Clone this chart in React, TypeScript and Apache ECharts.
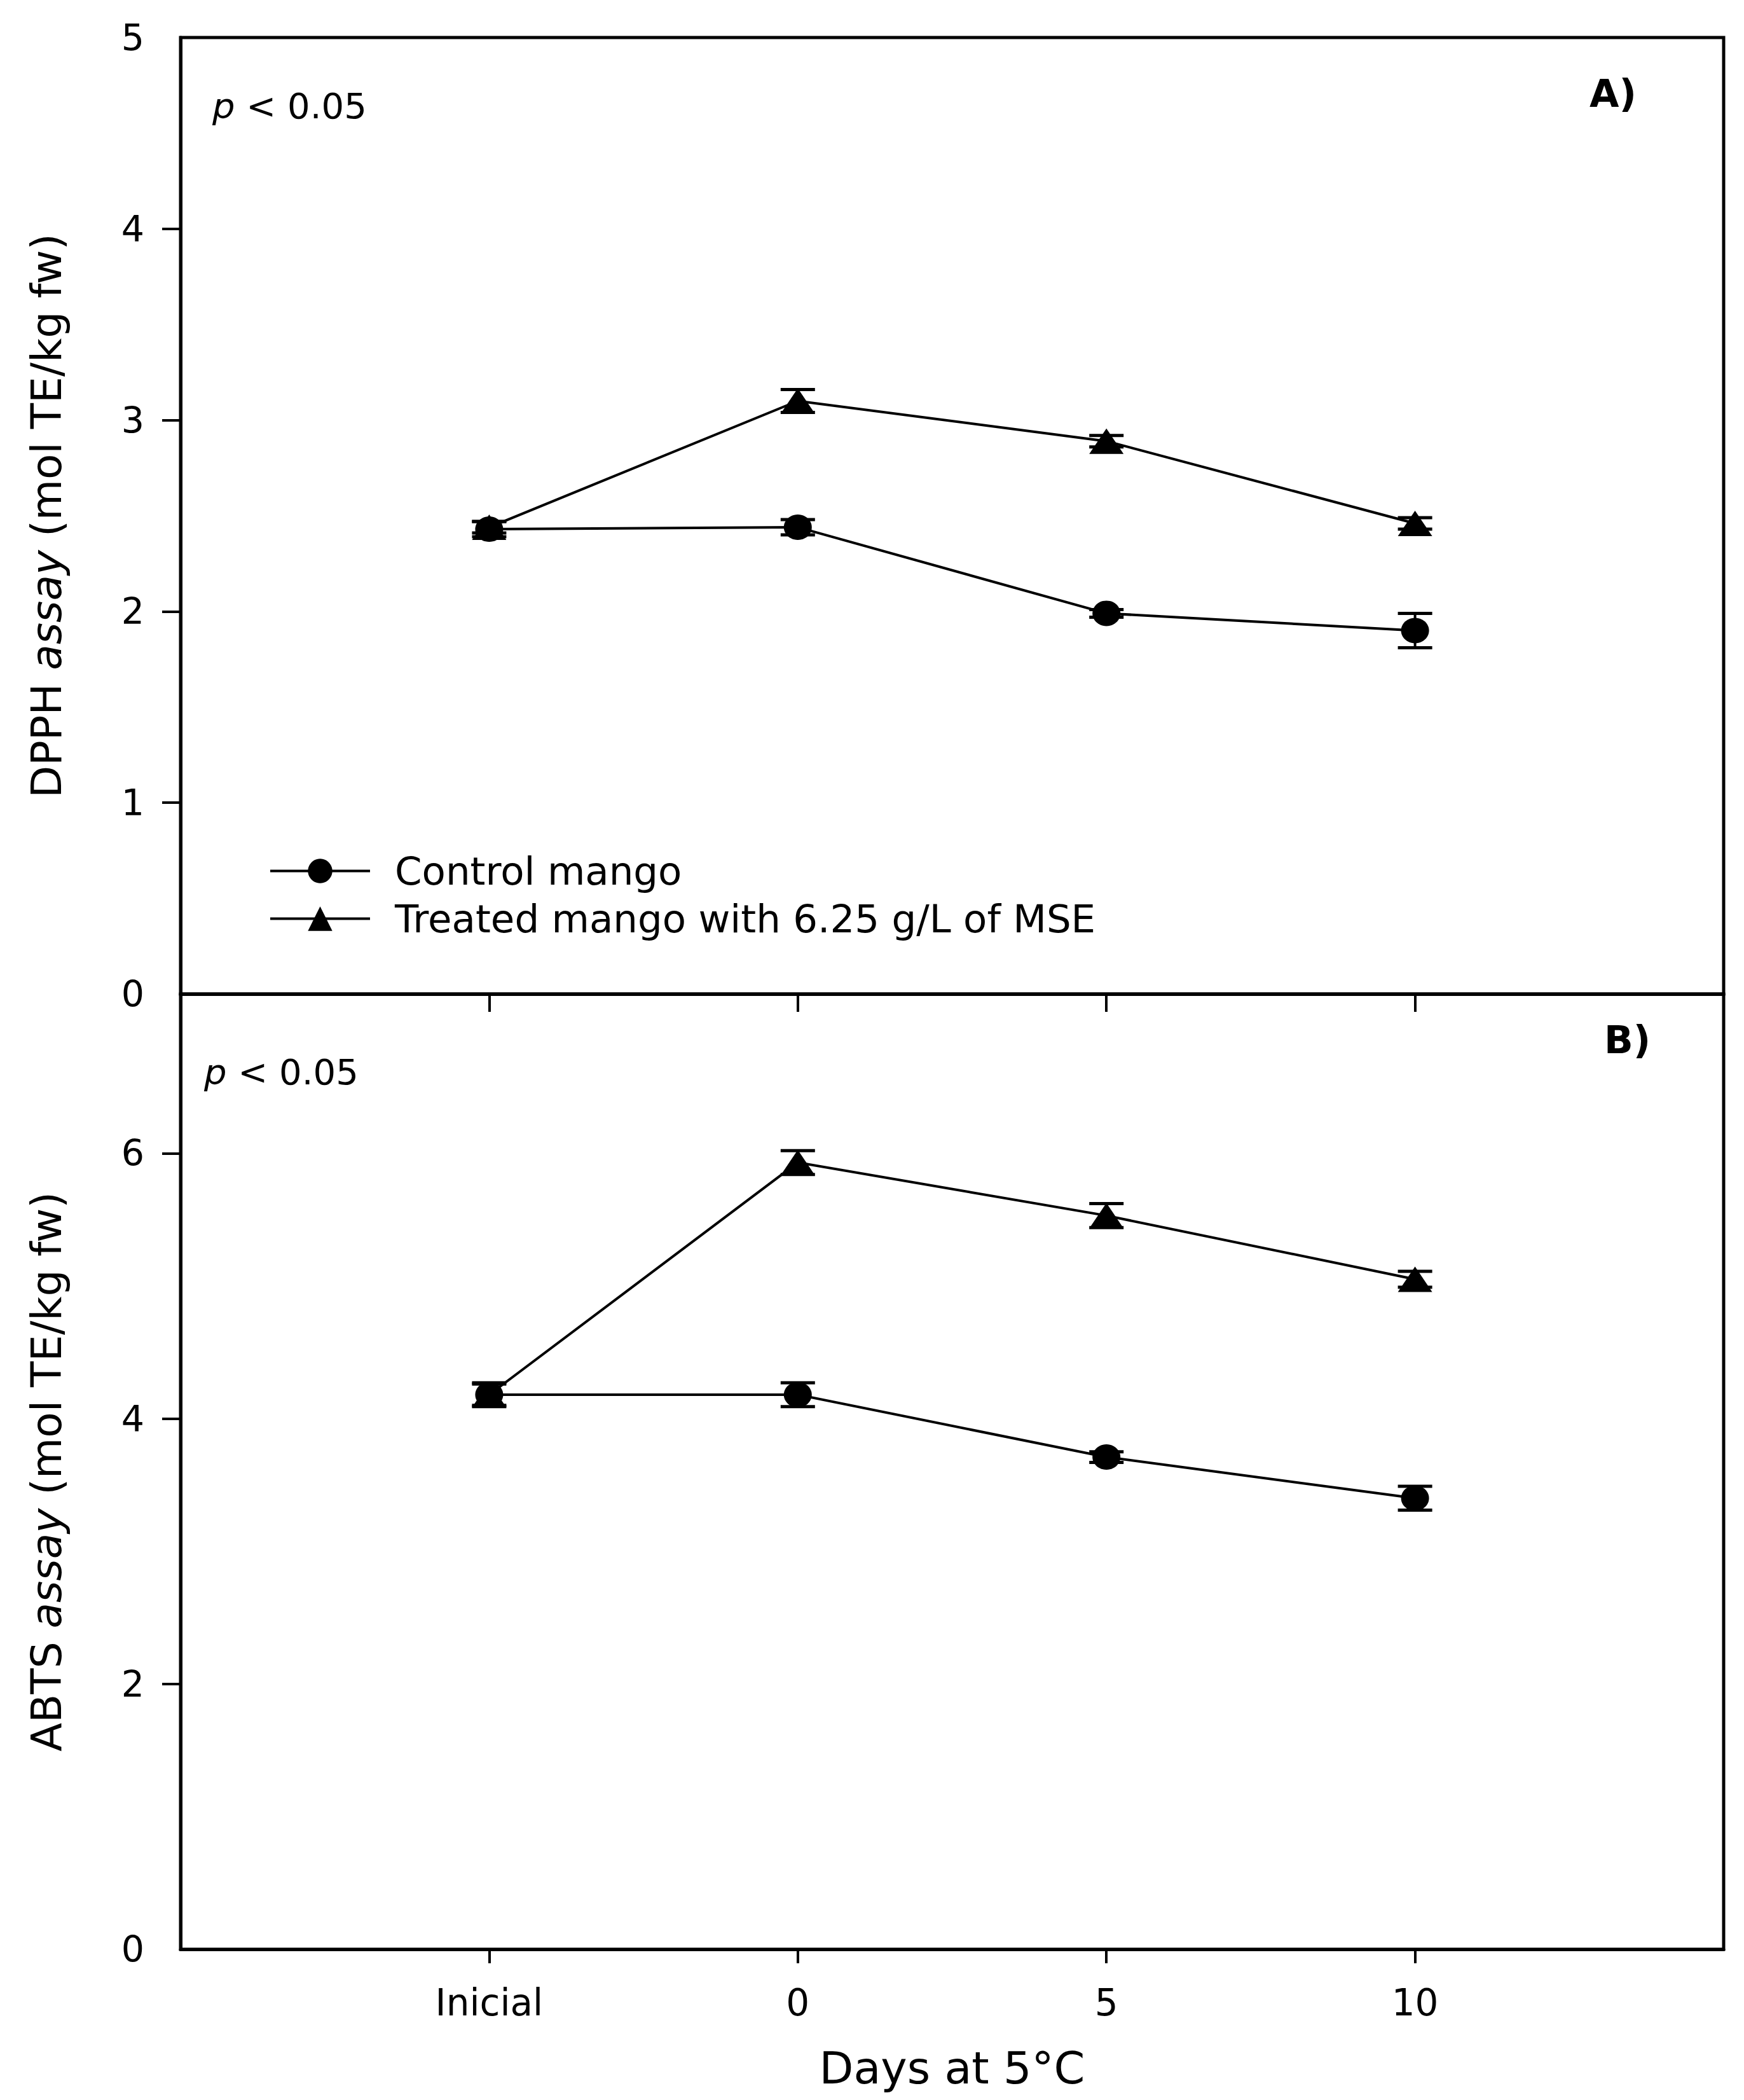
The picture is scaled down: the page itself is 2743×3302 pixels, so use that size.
import React, { useEffect, useRef } from 'react';
import * as echarts from 'echarts';

const categories = ['Inicial', '0', '5', '10'];
const xPositions = [0, 1, 2, 3];
const seriesNames = ['Control mango', 'Treated mango with 6.25 g/L of MSE'];

const dpphControl = [2.43, 2.44, 1.99, 1.9];
const dpphControlErr = [0.04, 0.04, 0.02, 0.09];
const dpphTreated = [2.44, 3.1, 2.89, 2.46];
const dpphTreatedErr = [0.03, 0.06, 0.03, 0.03];

const abtsControl = [4.18, 4.18, 3.71, 3.4];
const abtsControlErr = [0.09, 0.09, 0.04, 0.09];
const abtsTreated = [4.18, 5.93, 5.53, 5.05];
const abtsTreatedErr = [0.08, 0.09, 0.09, 0.06];

const dpphLabels = [0, 1, 2, 3, 4, 5];
const dpphTicks = [1, 2, 3, 4];
const abtsLabels = [0, 2, 4, 6];
const abtsTicks = [2, 4, 6];

const FONT = 'DejaVu Sans';
const BLACK = '#000';

export default function App() {
  const ref = useRef<HTMLDivElement>(null);

  useEffect(() => {
    if (!ref.current) return;
    const chart = echarts.init(ref.current, null, { renderer: 'svg' });

    const lineSeries = (name: string, values: number[], symbol: string, size: number[], xi: number, yi: number) => ({
      type: 'line',
      name,
      xAxisIndex: xi,
      yAxisIndex: yi,
      data: values.map((v, i) => [xPositions[i], v]),
      symbol,
      symbolSize: size,
      showSymbol: true,
      lineStyle: { color: BLACK, width: 4 },
      itemStyle: { color: BLACK },
      z: 4,
      silent: true,
    });

    const errorSeries = (values: number[], errs: number[], xi: number, yi: number) => ({
      type: 'custom',
      xAxisIndex: xi,
      yAxisIndex: yi,
      z: 3,
      silent: true,
      data: values.map((v, i) => [xPositions[i], v, errs[i]]),
      renderItem: (_params: any, api: any) => {
        const x = api.value(0);
        const m = api.value(1);
        const e = api.value(2);
        const top = api.coord([x, m + e]);
        const bot = api.coord([x, m - e]);
        const hw = 27;
        const cap = { stroke: BLACK, lineWidth: 5 };
        return {
          type: 'group',
          children: [
            { type: 'line', shape: { x1: top[0], y1: top[1], x2: bot[0], y2: bot[1] }, style: { stroke: BLACK, lineWidth: 4 } },
            { type: 'line', shape: { x1: top[0] - hw, y1: top[1], x2: top[0] + hw, y2: top[1] }, style: cap },
            { type: 'line', shape: { x1: bot[0] - hw, y1: bot[1], x2: bot[0] + hw, y2: bot[1] }, style: cap },
          ],
        };
      },
    });

    const xBase = (gridIndex: number, tickLen: number) => ({
      gridIndex,
      type: 'value',
      min: -1,
      max: 4,
      interval: 1,
      axisLine: { show: true, onZero: false, lineStyle: { color: BLACK, width: 5 } },
      axisTick: { show: true, inside: false, length: tickLen, customValues: xPositions, lineStyle: { color: BLACK, width: 4 } },
      splitLine: { show: false },
    });

    const yBase = (gridIndex: number, max: number, interval: number, labels: number[], ticks: number[]) => ({
      gridIndex,
      type: 'value',
      min: 0,
      max,
      interval,
      axisLine: { show: true, onZero: false, lineStyle: { color: BLACK, width: 5 } },
      axisTick: { show: true, inside: false, length: 29, customValues: ticks, lineStyle: { color: BLACK, width: 4 } },
      axisLabel: { show: true, customValues: labels, margin: 57, fontSize: 57, fontFamily: FONT, color: BLACK },
      splitLine: { show: false },
    });

    const yTitle = (text: string, y: number) => ({
      type: 'text',
      rotation: Math.PI / 2,
      x: 106,
      y,
      style: {
        text,
        fontSize: 66,
        fontFamily: FONT,
        fill: BLACK,
        align: 'center',
        verticalAlign: 'bottom',
        rich: { i: { fontStyle: 'italic', fontSize: 66, fontFamily: FONT, fill: BLACK } },
      },
    });

    const pText = (x: number, y: number) => ({
      type: 'text',
      x,
      y,
      style: {
        text: '{i|p} < 0.05',
        fontSize: 56,
        fontFamily: FONT,
        fill: BLACK,
        verticalAlign: 'middle',
        rich: { i: { fontStyle: 'italic', fontSize: 56, fontFamily: FONT, fill: BLACK } },
      },
    });

    const option: any = {
      animation: false,
      backgroundColor: '#fff',
      textStyle: { fontFamily: FONT, color: BLACK },
      grid: [
        { left: 284, top: 59, width: 2427, height: 1504, show: true, borderColor: BLACK, borderWidth: 5, backgroundColor: 'transparent', containLabel: false },
        { left: 284, top: 1563, width: 2427, height: 1502, show: true, borderColor: BLACK, borderWidth: 5, backgroundColor: 'transparent', containLabel: false },
      ],
      xAxis: [
        { ...xBase(0, 28), axisLabel: { show: false } },
        {
          ...xBase(1, 22),
          axisLabel: {
            show: true,
            customValues: xPositions,
            formatter: (v: number) => categories[Math.round(v)] ?? '',
            margin: 55,
            fontSize: 58,
            fontFamily: FONT,
            color: BLACK,
          },
          name: 'Days at 5°C',
          nameLocation: 'middle',
          nameGap: 152,
          nameTextStyle: { fontSize: 70, fontFamily: FONT, color: BLACK },
        },
      ],
      yAxis: [
        yBase(0, 5, 1, dpphLabels, dpphTicks),
        yBase(1, 7.2, 2, abtsLabels, abtsTicks),
      ],
      legend: {
        data: seriesNames,
        left: 423,
        top: 1339,
        orient: 'vertical',
        itemWidth: 157,
        itemHeight: 48,
        itemGap: 14,
        padding: 0,
        selectedMode: false,
        lineStyle: { width: 4, color: BLACK },
        itemStyle: { color: BLACK },
        textStyle: { fontSize: 61, fontFamily: FONT, color: BLACK, lineHeight: 48, padding: [0, 0, 0, 34] },
      },
      graphic: [
        yTitle('DPPH {i|assay} (mol TE/kg fw)', 811),
        yTitle('ABTS {i|assay} (mol TE/kg fw)', 2314),
        pText(334, 166),
        pText(321, 1685),
        {
          type: 'text',
          x: 2500,
          y: 147,
          style: { text: 'A)', fontSize: 60, fontWeight: 'bold', fontFamily: FONT, fill: BLACK, verticalAlign: 'middle' },
        },
        {
          type: 'text',
          x: 2523,
          y: 1635,
          style: { text: 'B)', fontSize: 60, fontWeight: 'bold', fontFamily: FONT, fill: BLACK, verticalAlign: 'middle' },
        },
      ],
      series: [
        errorSeries(dpphControl, dpphControlErr, 0, 0),
        errorSeries(dpphTreated, dpphTreatedErr, 0, 0),
        lineSeries(seriesNames[0], dpphControl, 'circle', [44, 40], 0, 0),
        lineSeries(seriesNames[1], dpphTreated, 'triangle', [54, 40], 0, 0),
        errorSeries(abtsControl, abtsControlErr, 1, 1),
        errorSeries(abtsTreated, abtsTreatedErr, 1, 1),
        lineSeries(seriesNames[0], abtsControl, 'circle', [44, 40], 1, 1),
        lineSeries(seriesNames[1], abtsTreated, 'triangle', [54, 40], 1, 1),
      ],
    };

    chart.setOption(option);
    return () => chart.dispose();
  }, []);

  return <div ref={ref} style={{ position: 'absolute', left: 0, top: 0, width: 2743, height: 3302 }} />;
}
